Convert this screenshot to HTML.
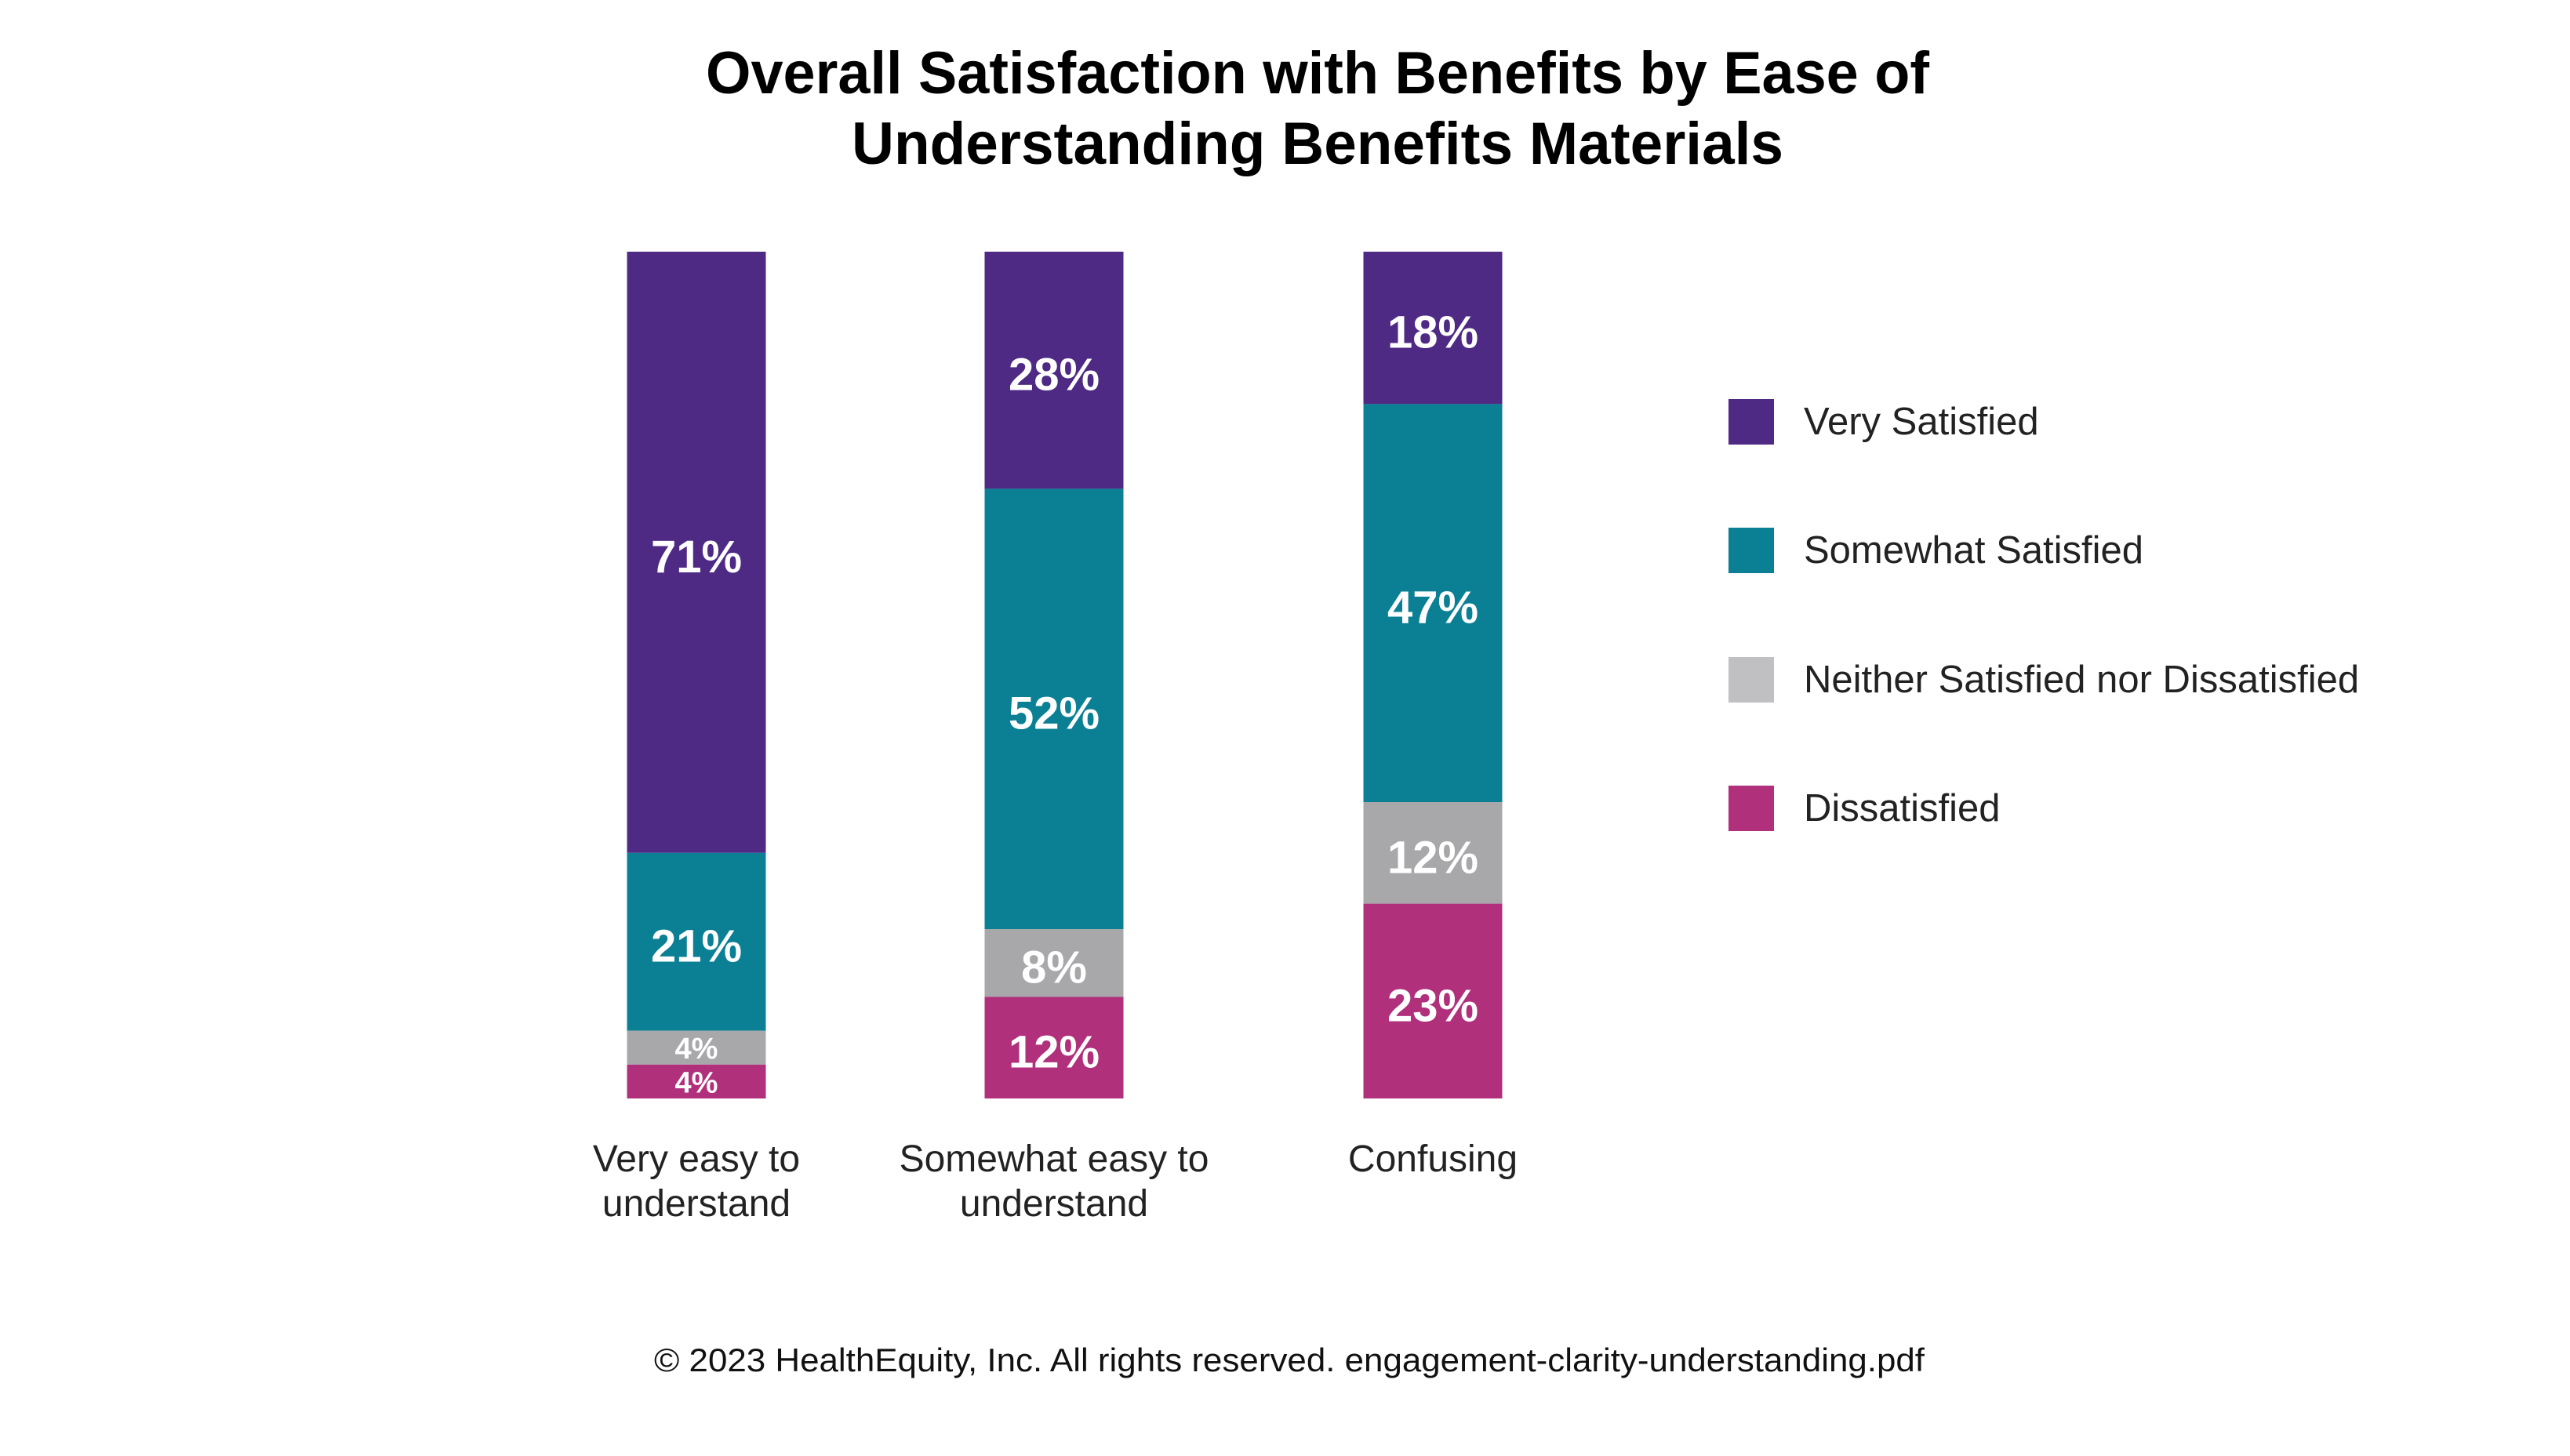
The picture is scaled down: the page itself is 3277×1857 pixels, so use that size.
<!DOCTYPE html>
<html><head><meta charset="utf-8"><style>
html,body{margin:0;padding:0;background:#fff;}
svg{display:block;font-family:"Liberation Sans",sans-serif;}
</style></head><body>
<svg id="chart" width="3277" height="1857" viewBox="0 0 3277 1857" xmlns="http://www.w3.org/2000/svg">
<text x="1680" y="119" text-anchor="middle" font-size="76" font-weight="bold" fill="#000" textLength="1560" lengthAdjust="spacingAndGlyphs">Overall Satisfaction with Benefits by Ease of</text>
<text x="1680" y="209" text-anchor="middle" font-size="76" font-weight="bold" fill="#000" textLength="1188" lengthAdjust="spacingAndGlyphs">Understanding Benefits Materials</text>
<g id="bars"></g>
<g id="legend"></g>
<text x="1644" y="1749" text-anchor="middle" font-size="42" fill="#111" textLength="1620" lengthAdjust="spacingAndGlyphs">© 2023 HealthEquity, Inc. All rights reserved. engagement-clarity-understanding.pdf</text>
</svg>
<script>
const categories = [["Very easy to","understand"],["Somewhat easy to","understand"],["Confusing"]];
const seriesNames = ["Very Satisfied","Somewhat Satisfied","Neither Satisfied nor Dissatisfied","Dissatisfied"];
const verySatisfied = [71, 28, 18];
const somewhatSatisfied = [21, 52, 47];
const neither = [4, 8, 12];
const dissatisfied = [4, 12, 23];

const NS = "http://www.w3.org/2000/svg";
const colors = ["#4e2a84","#0b8094","#a8a8ab","#b0307c"];
const legendColors = ["#4e2a84","#0b8094","#c0c0c2","#b0307c"];
const series = [verySatisfied, somewhatSatisfied, neither, dissatisfied];
const plotTop = 321, plotBottom = 1401;
const barCenters = [888, 1344, 1827];
const barW = 177;
function y(v){ return plotBottom - v/100*(plotBottom-plotTop); }
function mk(tag, attrs, parent){ const e=document.createElementNS(NS,tag); for(const k in attrs) e.setAttribute(k,attrs[k]); parent.appendChild(e); return e; }

const bars = document.getElementById('bars');
categories.forEach((cat, i) => {
  let cum = 100;
  series.forEach((s, j) => {
    const v = s[i];
    const top = cum, bot = cum - v;
    const r = mk('rect', {x: barCenters[i]-barW/2, y: y(top), width: barW, height: y(bot)-y(top), fill: colors[j]}, bars);
    
    
    const small = v < 6;
    const t = mk('text', {x: barCenters[i], y: (y(top)+y(bot))/2 + (small ? 2 : 6), 'text-anchor':'middle', 'dominant-baseline':'central', 'font-size': small ? 38 : 58, 'font-weight':'bold', fill:'#fff'}, bars);
    
    
    t.textContent = v + '%';
    cum = bot;
  });
  cat.forEach((line, k) => {
    const t = mk('text', {x: barCenters[i], y: 1494 + k*57, 'text-anchor':'middle', 'font-size': 48, fill:'#222'}, bars);
    
    
    t.textContent = line;
  });
});

const legend = document.getElementById('legend');
const legendY = [538, 702, 867, 1031];
seriesNames.forEach((n, j) => {
  const r = mk('rect', {x: 2204, y: legendY[j]-29, width: 58, height: 58, fill: legendColors[j]}, legend);
  
  
  const t = mk('text', {x: 2300, y: legendY[j], 'dominant-baseline':'central', 'font-size': 49, fill:'#222'}, legend);
  
  
  t.textContent = n;
});
</script>
</body></html>
